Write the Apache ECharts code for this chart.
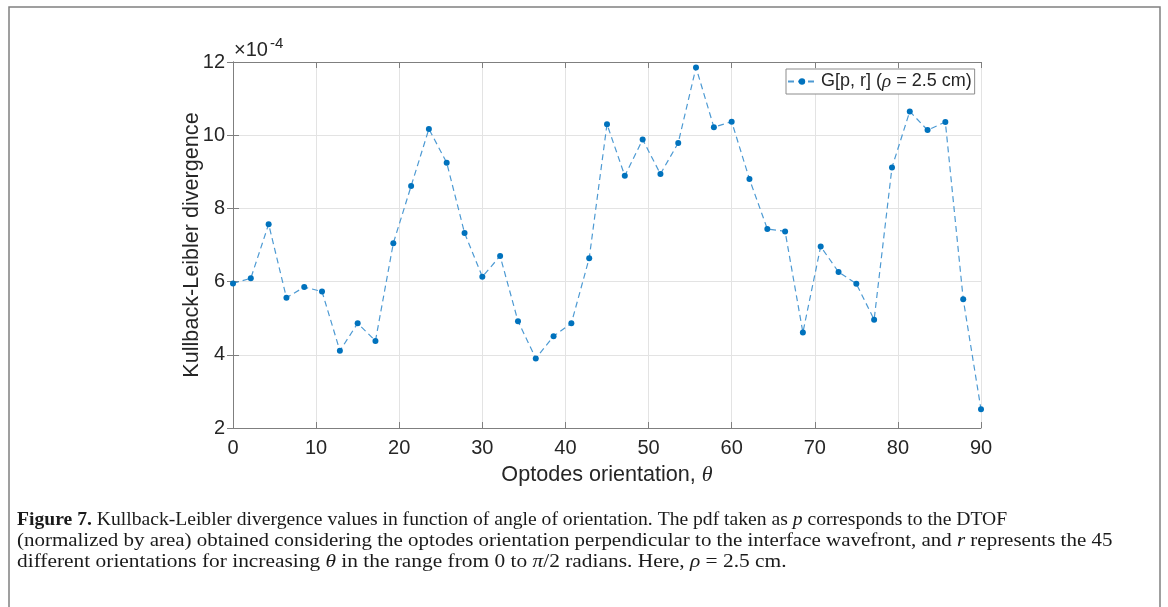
<!DOCTYPE html>
<html>
<head>
<meta charset="utf-8">
<title>Kullback-Leibler divergence vs orientation</title>
<script src="https://cdn.jsdelivr.net/npm/echarts@6/dist/echarts.min.js"></script>
<style>
  html, body { margin: 0; padding: 0; background: #ffffff; }
  #chart { width: 1168px; height: 607px; }
</style>
</head>
<body>
<div id="chart"></div>
<script>
// Optode orientation angles (degrees), 0 to 90
const thetaDeg = [0, 2.14, 4.29, 6.43, 8.57, 10.71, 12.86, 15.00, 17.14, 19.29,
  21.43, 23.57, 25.71, 27.86, 30.00, 32.14, 34.29, 36.43, 38.57, 40.71,
  42.86, 45.00, 47.14, 49.29, 51.43, 53.57, 55.71, 57.86, 60.00, 62.14,
  64.29, 66.43, 68.57, 70.71, 72.86, 75.00, 77.14, 79.29, 81.43, 83.57,
  85.71, 87.86, 90.00];

// KL divergence G[p, r], in units of 1e-4
const klValues = [5.95, 6.09, 7.57, 5.56, 5.85, 5.73, 4.11, 4.86, 4.38, 7.05,
  8.61, 10.17, 9.25, 7.33, 6.13, 6.70, 4.92, 3.90, 4.51, 4.86,
  6.64, 10.30, 8.89, 9.88, 8.94, 9.79, 11.85, 10.22, 10.37, 8.80,
  7.44, 7.37, 4.61, 6.96, 6.26, 5.94, 4.96, 9.12, 10.65, 10.14,
  10.36, 5.52, 2.51];

const seriesName = 'G[p, r]';
const xTicks = [0, 10, 20, 30, 40, 50, 60, 70, 80, 90];
const yTicks = [2, 4, 6, 8, 10, 12];
const yExponent = '-4';

const points = thetaDeg.map((t, i) => [t, klValues[i]]);

const sans = '"Liberation Sans", Arial, Helvetica, sans-serif';
const serif = '"Liberation Serif", "Times New Roman", serif';
const axisColor = '#7f7f7f';
const textColor = '#262626';
const gridColor = '#e3e3e3';

const chart = echarts.init(document.getElementById('chart'), null, { renderer: 'canvas' });

// Caption typography
const capSize = 19.4;
const capRich = {
  n: { fontFamily: serif, fontSize: capSize, color: '#1a1a1a' },
  b: { fontFamily: serif, fontSize: capSize, fontWeight: 'bold', color: '#1a1a1a' },
  i: { fontFamily: serif, fontSize: capSize, fontStyle: 'italic', color: '#1a1a1a' }
};
const captionLines = [
  '{b|Figure 7.}{n| Kullback-Leibler divergence values in function of angle of orientation. The pdf taken as }{i|p}{n| corresponds to the DTOF}',
  '{n|(normalized by area) obtained considering the optodes orientation perpendicular to the interface wavefront, and }{i|r}{n| represents the 45}',
  '{n|different orientations for increasing }{i|θ}{n| in the range from 0 to }{i|π}{n|/2 radians. Here, }{i|ρ}{n| = 2.5 cm.}'
];
// per-line horizontal set width of the caption face
const captionStretch = [1.012, 1.081, 1.103];

const axisCommon = {
  type: 'value',
  axisLine: { show: true, lineStyle: { color: axisColor, width: 1 } },
  axisTick: { show: true, inside: true, length: 6, lineStyle: { color: axisColor } },
  splitLine: { show: false },
  axisLabel: { show: false }
};

chart.setOption({
  backgroundColor: '#ffffff',
  animation: false,
  grid: { left: 233, top: 62, right: 187, bottom: 179, containLabel: false },
  legend: {
    data: [seriesName],
    left: 786,
    top: 69,
    orient: 'horizontal',
    itemWidth: 28,
    itemHeight: 8,
    itemGap: 2,
    padding: [3, 3, 3, 1],
    backgroundColor: '#ffffff',
    borderColor: '#8c8c8c',
    borderWidth: 1,
    borderRadius: 0,
    formatter: function () { return '{t|G[p, r] (}{i|ρ}{t| = 2.5 cm)}'; },
    textStyle: {
      rich: {
        t: { fontFamily: sans, fontSize: 18, color: textColor },
        i: { fontFamily: serif, fontSize: 19, fontStyle: 'italic', color: textColor }
      }
    }
  },
  xAxis: [
    {
      type: 'value', min: 0, max: 90, interval: 10,
      name: '{t|Optodes orientation, }{i|θ}',
      nameLocation: 'middle',
      nameGap: 36,
      nameTextStyle: {
        rich: {
          t: { fontFamily: sans, fontSize: 21.6, color: textColor },
          i: { fontFamily: serif, fontSize: 22, fontStyle: 'italic', color: textColor }
        }
      },
      axisLine: { show: true, onZero: false, lineStyle: { color: axisColor, width: 1 } },
      axisTick: { show: true, inside: true, length: 6, lineStyle: { color: axisColor } },
      axisLabel: {
        fontFamily: sans, fontSize: 20, color: textColor, margin: 10,
        formatter: v => (xTicks.includes(v) ? String(v) : '')
      },
      splitLine: { show: true, lineStyle: { color: gridColor, width: 1 } }
    },
    Object.assign({}, axisCommon, { position: 'top', min: 0, max: 90, interval: 10 })
  ],
  yAxis: [
    {
      type: 'value', min: 2, max: 12, interval: 2,
      name: 'Kullback-Leibler divergence',
      nameLocation: 'middle',
      nameGap: 30,
      nameMoveOverlap: false,
      nameTextStyle: { fontFamily: sans, fontSize: 21.6, color: textColor },
      axisLine: { show: true, onZero: false, lineStyle: { color: axisColor, width: 1 } },
      axisTick: { show: true, inside: true, length: 6, lineStyle: { color: axisColor } },
      axisLabel: {
        fontFamily: sans, fontSize: 20, color: textColor, margin: 8,
        formatter: v => (yTicks.includes(v) ? String(v) : '')
      },
      splitLine: { show: true, lineStyle: { color: gridColor, width: 1 } }
    },
    Object.assign({}, axisCommon, { position: 'right', min: 2, max: 12, interval: 2 })
  ],
  series: [
    {
      name: seriesName,
      type: 'line',
      xAxisIndex: 0,
      yAxisIndex: 0,
      data: points,
      symbol: 'circle',
      symbolSize: 6,
      showAllSymbol: true,
      itemStyle: { color: '#0072BD' },
      lineStyle: { color: '#4d9ad3', width: 1.2, type: [6, 4] }
    }
  ],
  graphic: [
    {
      type: 'rect',
      shape: { x: 9, y: 7, width: 1151, height: 620 },
      style: { fill: 'none', stroke: '#808080', lineWidth: 1.5 },
      silent: true
    },
    {
      type: 'text', left: 234, top: 40,
      style: { text: '×10', font: '20px ' + sans, fill: textColor }
    },
    {
      type: 'text', left: 270, top: 36,
      style: { text: yExponent, font: '15px ' + sans, fill: textColor }
    }
  ].concat(captionLines.map((line, k) => ({
    type: 'text',
    x: 17,
    y: 510 + k * 21,
    scaleX: captionStretch[k],
    style: { text: line, rich: capRich, fill: '#1a1a1a' }
  })))
});
</script>
</body>
</html>
